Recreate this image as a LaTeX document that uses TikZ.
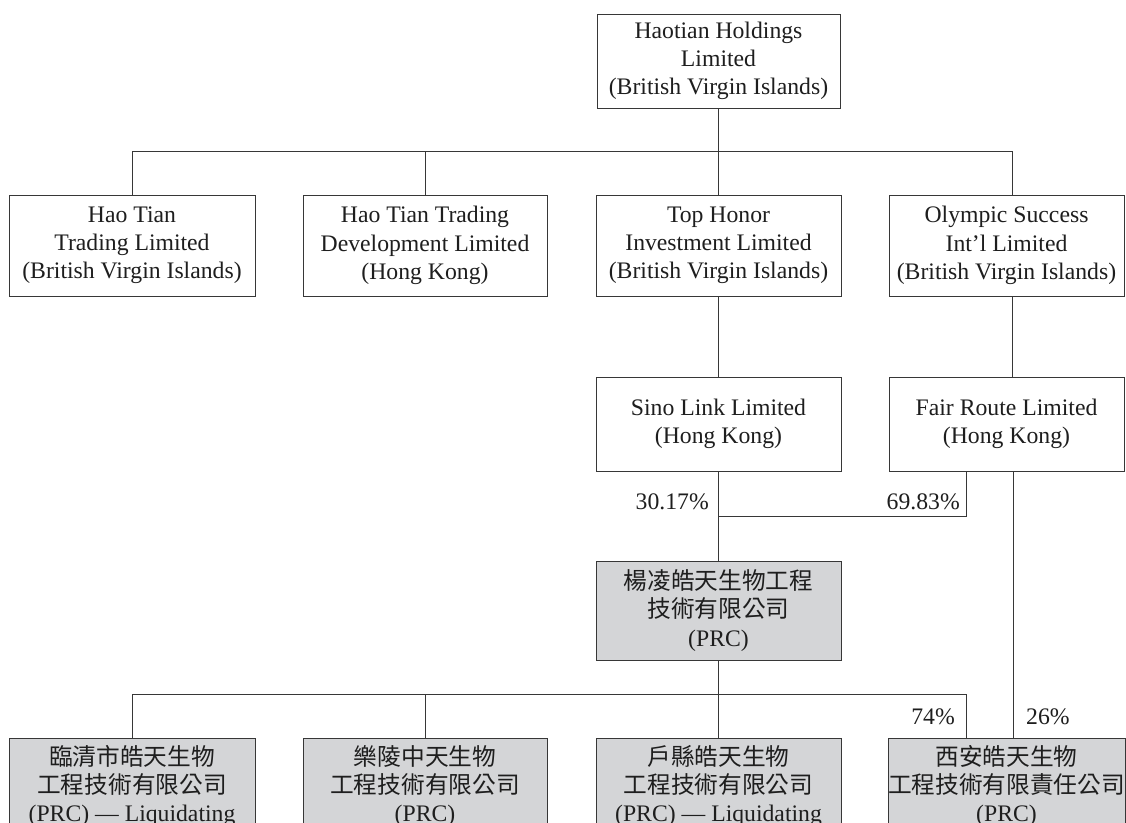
\documentclass[tikz,border=0pt]{standalone}
\usepackage{fontspec}
\setmainfont{Liberation Serif}
\newfontfamily\cjk{Noto Sans CJK TC}
\definecolor{boxgray}{RGB}{212,213,215}
\definecolor{linec}{RGB}{55,55,55}
\definecolor{txt}{RGB}{30,30,30}
\begin{document}
\begin{tikzpicture}[x=1pt,y=-1pt,
  box/.style={draw=linec, line width=1pt, rectangle, inner sep=0pt, align=center, text=txt, fill=white, font=\fontsize{23.7}{28.2}\selectfont},
  greybox/.style={box, fill=boxgray},
  conn/.style={draw=linec, line width=1pt},
  pct/.style={text=txt, font=\fontsize{23.7}{28.2}\selectfont, inner sep=0pt}]
\useasboundingbox (0,0) rectangle (1126,822);
% top
\node[box, minimum width=243pt, minimum height=94pt] (top) at (718.5,61) {Haotian Holdings\\Limited\\(British Virgin Islands)};
% row 2
\node[box, minimum width=246pt, minimum height=101pt] (b1) at (132,245.5) {Hao Tian\\Trading Limited\\(British Virgin Islands)};
\node[box, minimum width=244pt, minimum height=101pt] (b2) at (425,245.5) {Hao Tian Trading\\Development Limited\\(Hong Kong)};
\node[box, minimum width=245pt, minimum height=101pt] (b3) at (718.5,245.5) {Top Honor\\Investment Limited\\(British Virgin Islands)};
\node[box, minimum width=235pt, minimum height=101pt] (b4) at (1006.5,245.5) {Olympic Success\\Int’l Limited\\(British Virgin Islands)};
% row 3
\node[box, minimum width=245pt, minimum height=94pt] (sino) at (718.5,424) {Sino Link Limited\\(Hong Kong)};
\node[box, minimum width=235pt, minimum height=94pt] (fair) at (1006.5,424) {Fair Route Limited\\(Hong Kong)};
% row 4
\node[greybox, minimum width=245pt, minimum height=99pt] (yl) at (718.5,610.5) {{\cjk 楊凌皓天生物工程}\\{\cjk 技術有限公司}\\(PRC)};
% row 5
\node[greybox, minimum width=246pt, minimum height=96pt] (c1) at (132,786) {{\cjk 臨清市皓天生物}\\{\cjk 工程技術有限公司}\\(PRC) — Liquidating};
\node[greybox, minimum width=244pt, minimum height=96pt] (c2) at (425,786) {{\cjk 樂陵中天生物}\\{\cjk 工程技術有限公司}\\(PRC)};
\node[greybox, minimum width=245pt, minimum height=96pt] (c3) at (718.5,786) {{\cjk 戶縣皓天生物}\\{\cjk 工程技術有限公司}\\(PRC) — Liquidating};
\node[greybox, minimum width=235pt, minimum height=96pt] (c4) at (1006.5,786) {{\cjk 西安皓天生物}\\{\cjk 工程技術有限責任公司}\\(PRC)};
% coordinates
\coordinate (busA) at (718.5,151);
\coordinate (busAL) at (132,151);
\coordinate (busAR) at (1012,151);
\coordinate (b4top) at (1012,194.5);
\coordinate (b4bot) at (1012,296);
\coordinate (fairtop) at (1012,377);
\coordinate (fairA) at (966,471);
\coordinate (fairAj) at (966,516);
\coordinate (sinoj) at (718.5,516);
\coordinate (fairB) at (1013,471);
\coordinate (c4B) at (1013,738);
\coordinate (busB) at (718.5,694);
\coordinate (busBL) at (132,694);
\coordinate (busBR) at (966,694);
\coordinate (c4A) at (966,738);
% connectors
\draw[conn] (top.south) -- (busA);
\draw[conn] (b1.north) -- (busAL) -- (busAR) -- (b4top);
\draw[conn] (b2.north) -- (b2.north |- busA);
\draw[conn] (b3.north) -- (busA);
\draw[conn] (b3.south) -- (sino.north);
\draw[conn] (b4bot) -- (fairtop);
\draw[conn] (sino.south) -- (yl.north);
\draw[conn] (fairA) -- (fairAj) -- (sinoj);
\draw[conn] (fairB) -- (c4B);
\draw[conn] (yl.south) -- (busB);
\draw[conn] (c1.north) -- (busBL) -- (busBR) -- (c4A);
\draw[conn] (c2.north) -- (c2.north |- busB);
\draw[conn] (c3.north) -- (busB);
% labels
\node[pct, anchor=base east] (p1) at (709,509) {30.17\%};
\node[pct, anchor=base east] (p2) at (960,509) {69.83\%};
\node[pct, anchor=base east] (p3) at (955,724) {74\%};
\node[pct, anchor=base west] (p4) at (1026,724) {26\%};
\end{tikzpicture}
\end{document}
